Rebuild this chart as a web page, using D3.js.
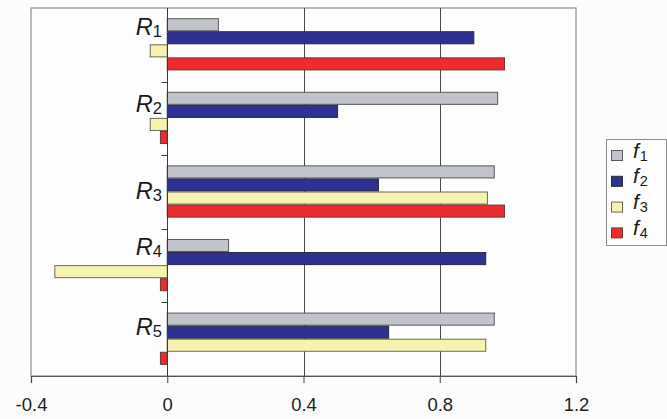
<!DOCTYPE html>
<html>
<head>
<meta charset="utf-8">
<script src="https://cdn.jsdelivr.net/npm/d3@7"></script>
<style>
  html, body { margin: 0; padding: 0; background: #fcfcfc; }
  svg { display: block; }
  text { font-family: "Liberation Sans", Arial, sans-serif; }
</style>
</head>
<body>
<svg id="chart" width="667" height="419"></svg>
<script>
// ---- data ----
const categories = ["1", "2", "3", "4", "5"];          // R subscripts
const seriesNames = ["1", "2", "3", "4"];              // f subscripts
const f1 = [0.15, 0.97, 0.96, 0.18, 0.96];
const f2 = [0.90, 0.50, 0.62, 0.935, 0.65];
const f3 = [-0.05, -0.05, 0.94, -0.33, 0.935];
const f4 = [0.99, -0.02, 0.99, -0.02, -0.02];
const xTicks = [-0.4, 0, 0.4, 0.8, 1.2];
const xTickLabels = ["-0.4", "0", "0.4", "0.8", "1.2"];

// ---- style / layout ----
const colors = ["#c0c3ca", "#2e3192", "#f6f2b0", "#ec2a30"];
const strokes = ["#5a5a5a", "#2a2a3a", "#6a6a5a", "#6a3a3a"];
const labelBaseline = [27, 30, 44, 26, 33]; // manual label offsets within band

const series = [f1, f2, f3, f4];
const svg = d3.select("#chart");
const L = 31, R = 576, T = 8, B = 376;

const x = d3.scaleLinear().domain([-0.4, 1.2]).range([L, R]);
const y = d3.scaleBand().domain(categories).range([T, B]).padding(0);
const bw = y.bandwidth();
const ys = d3.scaleBand().domain(seriesNames)
  .range([bw * 0.145, bw * 0.855]).padding(0);

// plot frame
svg.append("rect").attr("x", L).attr("y", T).attr("width", R - L).attr("height", B - T)
  .attr("fill", "#fdfdfd").attr("stroke", "#8f8f8f").attr("stroke-width", 1.2);

// vertical gridlines (0.4, 0.8)
svg.append("g").selectAll("line").data([0.4, 0.8]).join("line")
  .attr("x1", d => Math.round(x(d)) + 0.5).attr("x2", d => Math.round(x(d)) + 0.5)
  .attr("y1", T).attr("y2", B)
  .attr("stroke", "#4a4a4a").attr("stroke-width", 1);

// bars
const rows = [];
categories.forEach((c, i) => series.forEach((s, j) => rows.push({ c, s: seriesNames[j], j, v: s[i] })));
svg.append("g").selectAll("rect").data(rows).join("rect")
  .attr("x", d => x(Math.min(0, d.v)))
  .attr("width", d => Math.abs(x(d.v) - x(0)))
  .attr("y", d => y(d.c) + ys(d.s))
  .attr("height", ys.bandwidth() - 1)
  .attr("fill", d => colors[d.j])
  .attr("stroke", d => strokes[d.j])
  .attr("stroke-width", 1);

// zero (category) axis
const x0 = Math.round(x(0)) + 0.5;
svg.append("line").attr("x1", x0).attr("x2", x0).attr("y1", T).attr("y2", B)
  .attr("stroke", "#3a3a3a").attr("stroke-width", 1);
svg.append("g").selectAll("line").data(categories.slice(1)).join("line")
  .attr("x1", x0 - 6).attr("x2", x0)
  .attr("y1", d => Math.round(y(d)) + 0.5).attr("y2", d => Math.round(y(d)) + 0.5)
  .attr("stroke", "#3a3a3a");

// category labels R_i
const lab = svg.append("g").selectAll("text").data(categories).join("text")
  .attr("x", 162).attr("y", (d, i) => y(d) + labelBaseline[i])
  .attr("text-anchor", "end").attr("fill", "#1a1a1a");
lab.append("tspan").attr("font-style", "italic").attr("font-size", 23.5).text("R");
lab.append("tspan").attr("font-size", 16.5).attr("dy", 2).text(d => d);

// x axis
const xAxis = d3.axisBottom(x).tickValues(xTicks)
  .tickFormat((d, i) => xTickLabels[i]).tickSize(7).tickPadding(15);
const gx = svg.append("g").attr("transform", `translate(0,${B})`).call(xAxis);
gx.select(".domain").attr("stroke", "#555").attr("stroke-width", 1.2);
gx.selectAll(".tick line").attr("stroke", "#444");
gx.selectAll(".tick text").attr("font-size", 18.5).attr("fill", "#222")
  .attr("font-family", "'Liberation Sans', Arial, sans-serif");

// legend
const lg = svg.append("g");
lg.append("rect").attr("x", 606.5).attr("y", 139.5).attr("width", 60).attr("height", 106)
  .attr("fill", "#fdfdfd").attr("stroke", "#8f8f8f");
const items = lg.selectAll("g.item").data(seriesNames).join("g").attr("class", "item")
  .attr("transform", (d, i) => `translate(0,${155.5 + i * 25.8})`);
items.append("rect").attr("x", 611.5).attr("y", -5).attr("width", 11).attr("height", 10)
  .attr("fill", (d, i) => colors[i]).attr("stroke", (d, i) => strokes[i]);
const lt = items.append("text").attr("x", 633).attr("y", 2).attr("fill", "#1a1a1a");
lt.append("tspan").attr("font-style", "italic").attr("font-size", 21).text("f");
lt.append("tspan").attr("font-size", 14.5).attr("dx", 1).attr("dy", 3).text(d => d);
</script>
</body>
</html>
